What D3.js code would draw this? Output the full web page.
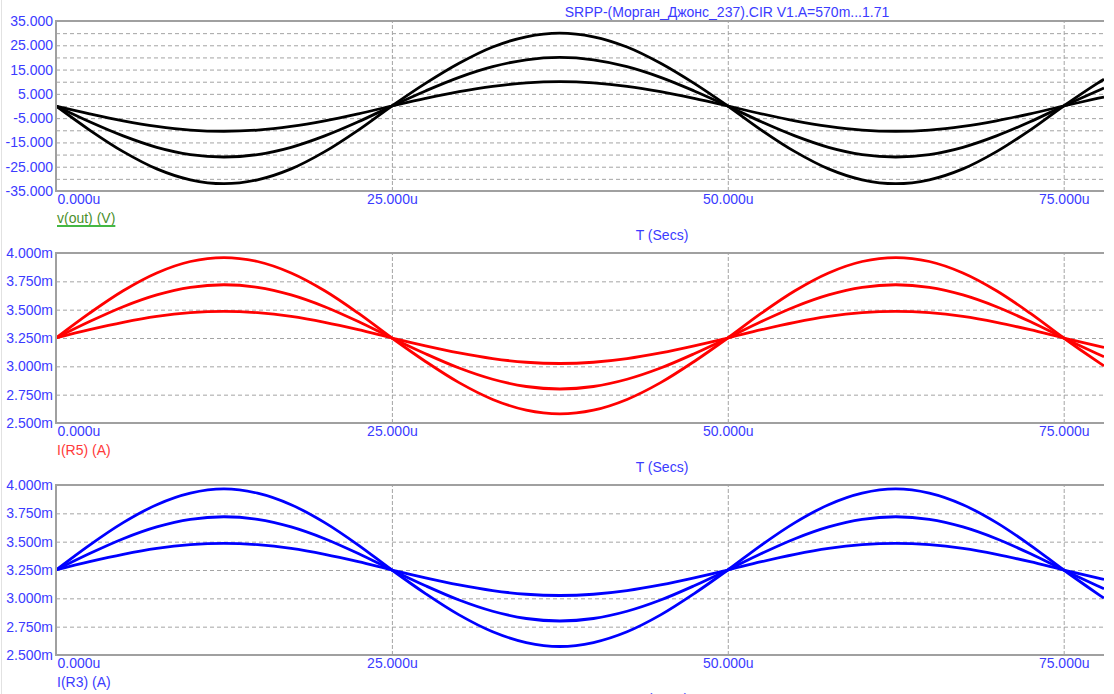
<!DOCTYPE html>
<html lang="en">
<head>
<meta charset="utf-8">
<title>SRPP transient</title>
<script src="https://d3js.org/d3.v7.min.js"></script>
<style>
  body { margin: 0; background: #fff; }
  svg { display: block; }
  text { font-family: "Liberation Sans", Arial, sans-serif; }
</style>
</head>
<body>
<script>
// time points, microseconds
var timeUs = [0, 2.5, 5, 7.5, 10, 12.5, 15, 17.5, 20, 22.5, 25, 27.5, 30, 32.5, 35, 37.5, 40, 42.5, 45, 47.5,
              50, 52.5, 55, 57.5, 60, 62.5, 65, 67.5, 70, 72.5, 75, 77.5, 78];

// v(out), volts
var vOutBig = [0, -9.9, -18.8, -25.9, -30.4, -32.0, -30.4, -25.9, -18.8, -9.9, 0, 9.3, 17.6, 24.3, 28.5, 30.0, 28.5, 24.3, 17.6, 9.3,
               0, -9.9, -18.8, -25.9, -30.4, -32.0, -30.4, -25.9, -18.8, -9.9, 0, 9.3, 11.0];
var vOutMid = [0, -6.5, -12.3, -17.0, -20.0, -21.0, -20.0, -17.0, -12.3, -6.5, 0, 6.2, 11.8, 16.2, 19.0, 20.0, 19.0, 16.2, 11.8, 6.2,
               0, -6.5, -12.3, -17.0, -20.0, -21.0, -20.0, -17.0, -12.3, -6.5, 0, 6.2, 7.4];
var vOutSmall = [0, -3.2, -6.1, -8.4, -9.9, -10.4, -9.9, -8.4, -6.1, -3.2, 0, 3.1, 5.9, 8.1, 9.5, 10.0, 9.5, 8.1, 5.9, 3.1,
                 0, -3.2, -6.1, -8.4, -9.9, -10.4, -9.9, -8.4, -6.1, -3.2, 0, 3.1, 3.7];

// I(R5), milliamps
var iR5Big = [3.25, 3.469, 3.667, 3.824, 3.925, 3.96, 3.925, 3.824, 3.667, 3.469, 3.25, 3.043, 2.856, 2.708, 2.613, 2.58, 2.613, 2.708, 2.856, 3.043,
              3.25, 3.469, 3.667, 3.824, 3.925, 3.96, 3.925, 3.824, 3.667, 3.469, 3.25, 3.043, 3.004];
var iR5Mid = [3.25, 3.395, 3.526, 3.630, 3.697, 3.72, 3.697, 3.630, 3.526, 3.395, 3.25, 3.111, 2.985, 2.886, 2.822, 2.80, 2.822, 2.886, 2.985, 3.111,
              3.25, 3.395, 3.526, 3.630, 3.697, 3.72, 3.697, 3.630, 3.526, 3.395, 3.25, 3.111, 3.084];
var iR5Small = [3.25, 3.323, 3.388, 3.440, 3.473, 3.485, 3.473, 3.440, 3.388, 3.323, 3.25, 3.180, 3.118, 3.068, 3.036, 3.025, 3.036, 3.068, 3.118, 3.180,
                3.25, 3.323, 3.388, 3.440, 3.473, 3.485, 3.473, 3.440, 3.388, 3.323, 3.25, 3.180, 3.167];

// I(R3), milliamps
var iR3Big = [3.25, 3.470, 3.668, 3.826, 3.928, 3.965, 3.928, 3.826, 3.668, 3.470, 3.25, 3.042, 2.854, 2.705, 2.610, 2.575, 2.610, 2.705, 2.854, 3.042,
              3.25, 3.470, 3.668, 3.826, 3.928, 3.965, 3.928, 3.826, 3.668, 3.470, 3.25, 3.042, 3.002];
var iR3Mid = [3.25, 3.395, 3.526, 3.630, 3.697, 3.72, 3.697, 3.630, 3.526, 3.395, 3.25, 3.111, 2.985, 2.886, 2.822, 2.80, 2.822, 2.886, 2.985, 3.111,
              3.25, 3.395, 3.526, 3.630, 3.697, 3.72, 3.697, 3.630, 3.526, 3.395, 3.25, 3.111, 3.084];
var iR3Small = [3.25, 3.323, 3.388, 3.440, 3.473, 3.485, 3.473, 3.440, 3.388, 3.323, 3.25, 3.180, 3.118, 3.068, 3.036, 3.025, 3.036, 3.068, 3.118, 3.180,
                3.25, 3.323, 3.388, 3.440, 3.473, 3.485, 3.473, 3.440, 3.388, 3.323, 3.25, 3.180, 3.167];

var xTicks = [0, 25, 50, 75];
var voltLabels = [35, 25, 15, 5, -5, -15, -25, -35];
var voltGrid = [30, 25, 20, 15, 10, 5, 0, -5, -10, -15, -20, -25, -30];
var ampLabels = [4.0, 3.75, 3.5, 3.25, 3.0, 2.75, 2.5];
var ampGrid = [3.75, 3.5, 3.25, 3.0, 2.75];

var title = "SRPP-(Морган_Джонс_237).CIR V1.A=570m...1.71";

var W = 1114, H = 694;
var left = 56, right = 1104, panelH = 170;
var blue = "#3b3bff";

var svg = d3.select("body").append("svg")
    .attr("width", W).attr("height", H);

svg.append("rect").attr("width", W).attr("height", H).attr("fill", "#fff");
svg.append("line").attr("x1", 1.5).attr("x2", 1.5).attr("y1", 0).attr("y2", H)
    .attr("stroke", "#e2e2e2").attr("stroke-width", 1);

var x = d3.scaleLinear().domain([0, 78]).range([left, right]);

svg.append("defs").append("clipPath").attr("id", "plotclip")
    .append("rect").attr("x", left).attr("y", 0).attr("width", right - left).attr("height", H);

svg.append("text")
    .attr("x", 727).attr("y", 17)
    .attr("text-anchor", "middle")
    .attr("font-size", 14)
    .attr("fill", blue)
    .text(title);

var panels = [
  { top: 21, domain: [-35, 35], labels: voltLabels, grid: voltGrid,
    fmt: function (v) { return v.toFixed(3); },
    series: [vOutBig, vOutMid, vOutSmall], color: "#000", name: "v(out) (V)", nameColor: "#4c8f2c", underline: true },
  { top: 253, domain: [2.5, 4.0], labels: ampLabels, grid: ampGrid,
    fmt: function (v) { return v.toFixed(3) + "m"; },
    series: [iR5Big, iR5Mid, iR5Small], color: "#ff0000", name: "I(R5) (A)", nameColor: "#ff3a3a" },
  { top: 485, domain: [2.5, 4.0], labels: ampLabels, grid: ampGrid,
    fmt: function (v) { return v.toFixed(3) + "m"; },
    series: [iR3Big, iR3Mid, iR3Small], color: "#0000ff", name: "I(R3) (A)", nameColor: blue }
];

panels.forEach(function (p) {
  var bottom = p.top + panelH;
  var y = d3.scaleLinear().domain(p.domain).range([bottom, p.top]);
  var g = svg.append("g");

  // horizontal grid
  g.append("g")
      .attr("transform", "translate(" + left + ",0)")
      .call(d3.axisLeft(y).tickValues(p.grid).tickSize(-(right - left)).tickFormat(""))
      .call(function (a) { a.select(".domain").remove(); })
      .selectAll("line")
      .attr("stroke", "#a4a4a4").attr("stroke-dasharray", "4,3");

  // vertical grid
  g.append("g")
      .attr("transform", "translate(0," + bottom + ")")
      .call(d3.axisBottom(x).tickValues([25, 50, 75]).tickSize(-panelH).tickFormat(""))
      .call(function (a) { a.select(".domain").remove(); })
      .selectAll("line")
      .attr("stroke", "#a4a4a4").attr("stroke-dasharray", "4,2");

  // curves
  var line = d3.line()
      .x(function (d, i) { return x(timeUs[i]); })
      .y(function (d) { return y(d); })
      .curve(d3.curveCatmullRom.alpha(0.5));
  g.append("g").attr("clip-path", "url(#plotclip)")
    .selectAll("path").data(p.series).enter().append("path")
      .attr("d", line)
      .attr("fill", "none")
      .attr("stroke", p.color)
      .attr("stroke-width", 2.8);

  // frame: top, left, bottom
  g.append("path")
      .attr("d", "M" + right + "," + p.top + "H" + left + "V" + bottom + "H" + right)
      .attr("fill", "none").attr("stroke", "#a0a0a0").attr("stroke-width", 2);

  // y labels
  g.append("g")
      .attr("transform", "translate(" + (left - 3) + ",0)")
      .call(d3.axisLeft(y).tickValues(p.labels).tickSize(0).tickPadding(0).tickFormat(p.fmt))
      .call(function (a) { a.select(".domain").remove(); })
      .attr("font-size", 14).attr("font-family", null)
      .selectAll("text").attr("fill", blue);

  // x labels
  var xa = g.append("g")
      .attr("transform", "translate(0," + bottom + ")")
      .call(d3.axisBottom(x).tickValues(xTicks).tickSize(0).tickPadding(3)
        .tickFormat(function (v) { return v.toFixed(3) + "u"; }))
      .call(function (a) { a.select(".domain").remove(); })
      .attr("font-size", 14).attr("font-family", null);
  xa.selectAll("text").attr("fill", blue);
  xa.selectAll(".tick").filter(function (d) { return d === 0; })
      .select("text").attr("text-anchor", "start").attr("x", 1);

  // series name
  var nm = g.append("text")
      .attr("x", left + 1).attr("y", bottom + 32)
      .attr("font-size", 14).attr("fill", p.nameColor)
      .text(p.name);
  if (p.underline) {
    var bb = nm.node().getBBox();
    g.append("line")
        .attr("x1", bb.x).attr("x2", bb.x + bb.width)
        .attr("y1", bottom + 35).attr("y2", bottom + 35)
        .attr("stroke", "#44b844").attr("stroke-width", 2);
  }

  g.append("text")
      .attr("x", 662).attr("y", bottom + 49)
      .attr("text-anchor", "middle")
      .attr("font-size", 14).attr("fill", blue)
      .text("T (Secs)");
});
</script>
</body>
</html>
